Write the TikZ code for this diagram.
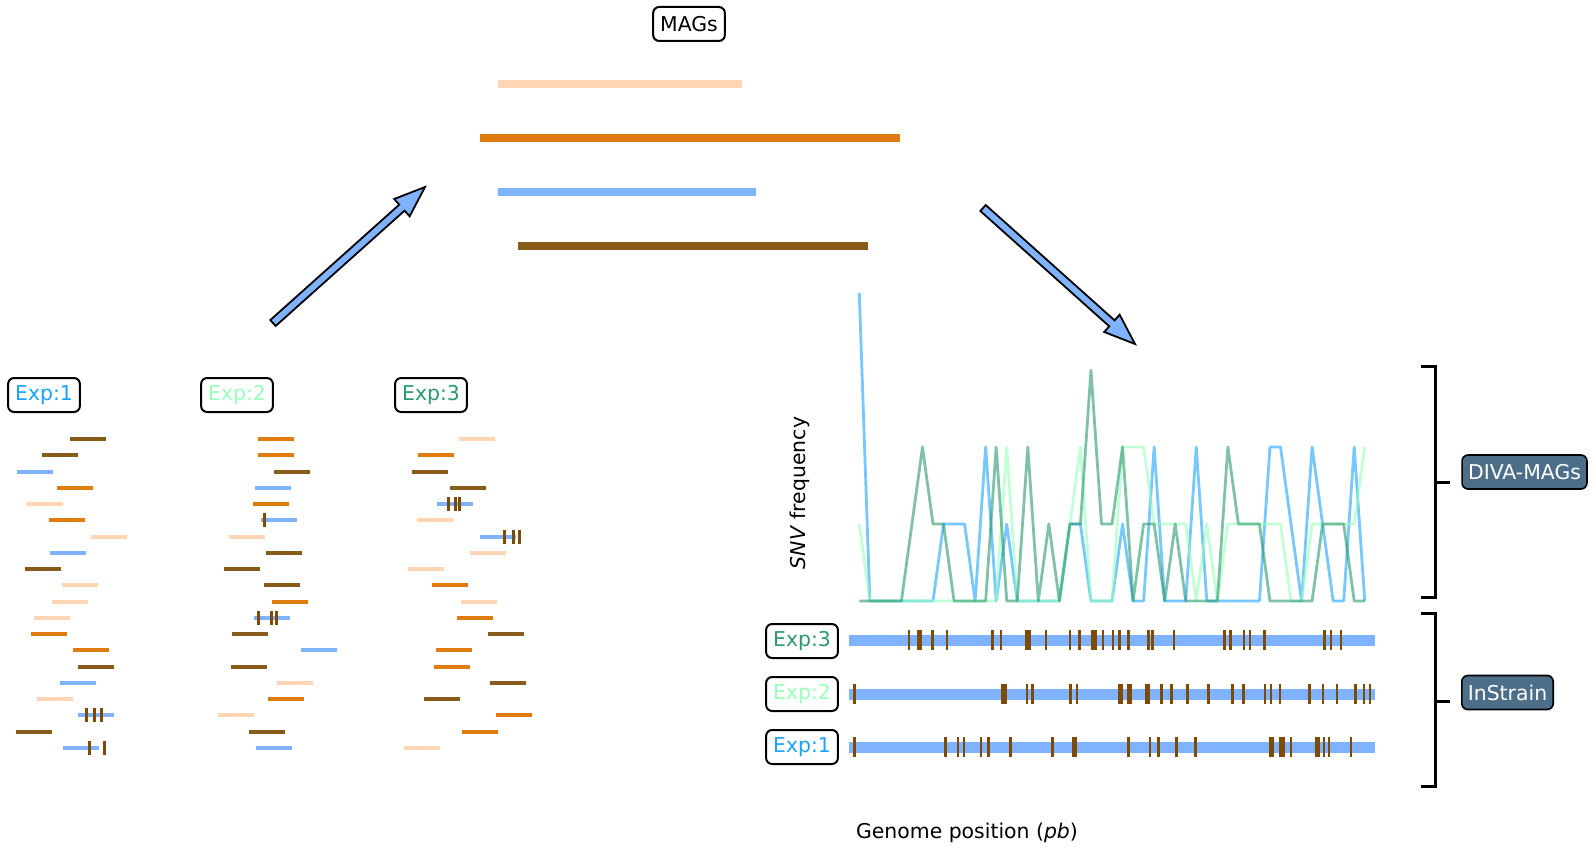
\documentclass[tikz,border=0pt]{standalone}
\usepackage{fontspec}
\setmainfont{DejaVu Sans}
\usetikzlibrary{calc}

\definecolor{magpeach}{RGB}{255,213,181}
\definecolor{magorange}{RGB}{224,123,16}
\definecolor{magblue}{RGB}{128,179,255}
\definecolor{magbrown}{RGB}{135,92,26}
\definecolor{snvbrown}{RGB}{125,75,5}
\definecolor{expone}{RGB}{26,163,255}
\definecolor{exptwo}{RGB}{153,255,187}
\definecolor{expthree}{RGB}{44,153,110}
\definecolor{toolfill}{RGB}{76,110,137}

% fat arrow from #1 (tail) to #2 (tip)
\newcommand{\fatarrow}[2]{%
  \coordinate (hb) at ($(#2)!15.5pt!(#1)$);
  \filldraw[arrowbody] ($(#1)!2pt!90:(#2)$) -- ($(hb)!2pt!-90:(#1)$)
    -- ($(hb)!5.8pt!-90:(#1)$) -- (#2) -- ($(hb)!5.8pt!90:(#1)$)
    -- ($(hb)!2pt!90:(#1)$) -- ($(#1)!2pt!-90:(#2)$) -- cycle;
}

\begin{document}
\begin{tikzpicture}[x=0.5pt, y=-0.5pt,
  every node/.style={font=\fontsize{10.2}{12}\selectfont},
  labelbox/.style={draw=black, line width=1pt, rounded corners=3pt, fill=white,
                   minimum height=17pt, inner xsep=3.5pt, inner ysep=0pt},
  toolbox/.style={draw=black, line width=0.8pt, rounded corners=3pt, fill=toolfill,
                  text=white, minimum height=17pt, inner xsep=3pt, inner ysep=0pt},
  magbar/.style={line width=4pt},
  read/.style={line width=2pt, preaction={draw=white, line width=3pt}},
  readsnv/.style={snvbrown, line width=1.5pt},
  track/.style={magblue, line width=5.5pt},
  snvtick/.style={snvbrown, line width=1.2pt},
  tickwide/.style={line width=2.7pt},
  snvline/.style={line width=1.4pt, opacity=0.6, line join=round},
  arrowbody/.style={fill=magblue, draw=black, line width=0.9pt, line join=miter},
  bracket/.style={line width=1.5pt}
]
\useasboundingbox (0,0) rectangle (1596,850);

%% MAGs
\node[labelbox] (mags) at (689,24) {MAGs};
\draw[magbar, magpeach]  (498,84)  -- (742,84);
\draw[magbar, magorange] (480,138) -- (900,138);
\draw[magbar, magblue]   (498,192) -- (756,192);
\draw[magbar, magbrown]  (518,246) -- (868,246);

%% arrows
\coordinate (upfrom) at (273,323);
\coordinate (upto)   at (425,187);
\coordinate (downfrom) at (983,208);
\coordinate (downto)   at (1135,344);
\fatarrow{upfrom}{upto}
\fatarrow{downfrom}{downto}

%% reads of each experiment
\node[labelbox, text=expone]   (readsone)   at (44,395)  {Exp:1};
\node[labelbox, text=exptwo]   (readstwo)   at (237,395) {Exp:2};
\node[labelbox, text=expthree] (readsthree) at (431,395) {Exp:3};

\foreach \xa/\c [count=\r from 0] in {70/magbrown, 42/magbrown, 17/magblue, 57/magorange,
    27/magpeach, 49/magorange, 91/magpeach, 50/magblue, 25/magbrown, 62/magpeach,
    52/magpeach, 34/magpeach, 31/magorange, 73/magorange, 78/magbrown, 60/magblue,
    37/magpeach, 78/magblue, 16/magbrown, 63/magblue}
  \draw[read, \c] (\xa,{439+16.26*\r}) -- ++(36,0);
\foreach \xa/\c [count=\r from 0] in {258/magorange, 258/magorange, 274/magbrown, 255/magblue,
    253/magorange, 261/magblue, 229/magpeach, 266/magbrown, 224/magbrown, 264/magbrown,
    272/magorange, 254/magblue, 232/magbrown, 301/magblue, 231/magbrown, 277/magpeach,
    268/magorange, 218/magpeach, 249/magbrown, 256/magblue}
  \draw[read, \c] (\xa,{439+16.26*\r}) -- ++(36,0);
\foreach \xa/\c [count=\r from 0] in {459/magpeach, 418/magorange, 412/magbrown, 450/magbrown,
    437/magblue, 417/magpeach, 480/magblue, 470/magpeach, 408/magpeach, 432/magorange,
    461/magpeach, 457/magorange, 488/magbrown, 436/magorange, 434/magorange, 490/magbrown,
    424/magbrown, 496/magorange, 462/magorange, 404/magpeach}
  \draw[read, \c] (\xa,{439+16.26*\r}) -- ++(36,0);

% SNVs on reads
\foreach \x/\r in {86/17, 94/17, 101/17, 89/19, 104/19, 264/5, 258/11, 271/11, 276/11,
    448/4, 455/4, 459/4, 504/6, 513/6, 519/6}
  \draw[readsnv] (\x,{439+16.26*\r-7}) -- ++(0,14);

%% SNV frequency
\draw[snvline, expone] (859.3,{601-77*4}) \foreach \L [count=\i] in {0,0,0,0,0,0,0,
    1,1,1,0,2,0,1,0,0,0,0,0,1,1,0,0,0,1,0,0,2,0,0,0,2,0,0,0,0,0,0,2,2,1,0,2,1,0,0,2,0}
  { -- ({859.3+10.53*\i},{601-77*\L}) };
\draw[snvline, exptwo] (859.3,{601-77*1}) \foreach \L [count=\i] in {0,0,0,0,0,0,0,0,0,0,0,0,0,
    2,0,0,0,0,0,1,2,0,0,0,2,2,2,1,1,1,1,0,1,0,1,1,1,1,1,1,0,0,1,1,1,1,1,2}
  { -- ({859.3+10.53*\i},{601-77*\L}) };
\draw[snvline, expthree] (859.3,601) \foreach \L [count=\i] in {0,0,0,0,1,2,1,1,0,0,0,0,
    2,0,0,2,0,1,0,1,1,3,1,1,2,0,1,1,0,1,0,0,0,0,2,1,1,1,0,0,0,0,0,1,1,1,0,0}
  { -- ({859.3+10.53*\i},{601-77*\L}) };
\node[rotate=90] (ylab) at (800,493) {\textit{SNV} frequency};

%% genome tracks
\node[labelbox, text=expthree] (trkthree) at (802,641) {Exp:3};
\node[labelbox, text=exptwo]   (trktwo)   at (802,694) {Exp:2};
\node[labelbox, text=expone]   (trkone)   at (802,747) {Exp:1};
\foreach \y in {640,694,747}
  \draw[track] (849,\y) -- (1375,\y);

\foreach \x/\k in {909.2/, 919.5/tickwide, 932.6/, 947.2/, 992.3/, 1001/, 1027.9/tickwide,
    1046.1/, 1070.2/, 1079.3/, 1093.9/tickwide, 1103/, 1112.9/, 1119.6/, 1128.3/, 1148.5/,
    1152.4/, 1173.8/, 1224.4/, 1230.3/, 1244.1/, 1250.1/, 1264.3/, 1324.4/, 1331.1/, 1341/}
  \draw[snvtick, \k] (\x,630) -- (\x,650);
\foreach \x/\k in {854.3/, 1004.1/tickwide, 1026.7/, 1032.6/, 1070.6/, 1076.9/,
    1120.4/tickwide, 1129.5/tickwide, 1147.5/tickwide, 1161.5/, 1171.4/, 1187.6/, 1208.6/,
    1232.3/, 1243.4/, 1265.1/, 1271/, 1280.1/, 1309.4/, 1323.2/, 1337.1/, 1355.6/, 1364/, 1370/}
  \draw[snvtick, \k] (\x,684) -- (\x,704);
\foreach \x/\k in {854.3/, 945.6/, 957.9/, 964.2/, 981.2/, 988.3/, 1010.5/, 1052.4/,
    1074.5/tickwide, 1128.3/, 1150/, 1158.3/, 1176.5/, 1195.5/, 1271.3/tickwide,
    1282/tickwide, 1290.8/, 1317.5/tickwide, 1323.8/, 1329/, 1351/}
  \draw[snvtick, \k] (\x,737) -- (\x,757);

\node (xlab) at (967,833) {Genome position (\textit{pb})};

%% brackets
\draw[bracket] (1421,366) -- (1435.5,366) -- (1435.5,597) -- (1421,597);
\draw[bracket] (1435.5,482) -- (1450,482);
\draw[bracket] (1421,613) -- (1435.5,613) -- (1435.5,786) -- (1421,786);
\draw[bracket] (1435.5,701) -- (1450,701);
\node[toolbox] (diva)     at (1524.5,472)   {DIVA-MAGs};
\node[toolbox] (instrain) at (1507.5,692.5) {InStrain};

\end{tikzpicture}
\end{document}
